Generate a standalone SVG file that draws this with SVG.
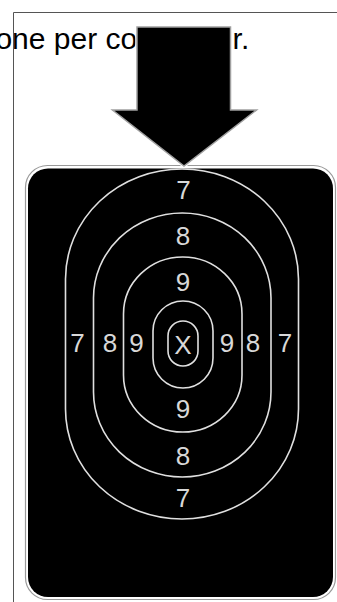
<svg xmlns="http://www.w3.org/2000/svg" width="337" height="602" viewBox="0 0 337 602">
<style>
.caption{font-family:"Liberation Sans",Arial,sans-serif;font-size:30px;fill:#000}
.ring{fill:none;stroke:#e0e0e0;stroke-width:1.6}
.lbl{font-family:"Liberation Sans",Arial,sans-serif;font-size:26px;fill:#d8d8d8;text-anchor:middle}
</style>
<rect x="0" y="0" width="337" height="602" fill="#fff"/>
<g id="caption">
<text class="caption" x="-4.6" y="49">one per co<tspan dx="-3">mpetitor.</tspan></text>
</g>
<g id="frame">
<path d="M13.5 602 V12.5 H337" fill="none" stroke="#555" stroke-width="1"/>
</g>
<g id="target">
<rect x="25.5" y="165.5" width="310" height="434" rx="22" fill="#fff" stroke="#999" stroke-width="1.2"/>
<rect x="28" y="168.5" width="305" height="428.5" rx="20" fill="#000"/>
<rect class="ring" x="65.5" y="169" width="233" height="350" rx="116.5" ry="110"/>
<rect class="ring" x="93.5" y="213" width="177.5" height="264" rx="88.75" ry="85"/>
<rect class="ring" x="123.5" y="257" width="118.5" height="175" rx="59.25" ry="57"/>
<rect class="ring" x="153" y="301" width="60" height="87" rx="30" ry="30"/>
<rect class="ring" x="168" y="321" width="30" height="45" rx="15" ry="15"/>
<text class="lbl" x="183.5" y="199">7</text>
<text class="lbl" x="183" y="245">8</text>
<text class="lbl" x="183" y="291">9</text>
<text class="lbl" x="183" y="354">X</text>
<text class="lbl" x="183" y="418">9</text>
<text class="lbl" x="183" y="465">8</text>
<text class="lbl" x="183" y="507">7</text>
<text class="lbl" x="77.5" y="352">7</text>
<text class="lbl" x="110" y="352">8</text>
<text class="lbl" x="136.5" y="352">9</text>
<text class="lbl" x="227" y="352">9</text>
<text class="lbl" x="253" y="352">8</text>
<text class="lbl" x="285" y="352">7</text>
</g>
<g id="arrow">
<path d="M137 27 H230.5 V110 H256.5 L184 166 L112.5 110 H137 Z" fill="#000" stroke="#fff" stroke-width="3.5" stroke-linejoin="miter"/>
<path d="M137 27 H230.5 V110 H256.5 L184 166 L112.5 110 H137 Z" fill="#000" stroke="#a0a0a0" stroke-width="1.5" stroke-linejoin="miter"/>
</g>
</svg>
